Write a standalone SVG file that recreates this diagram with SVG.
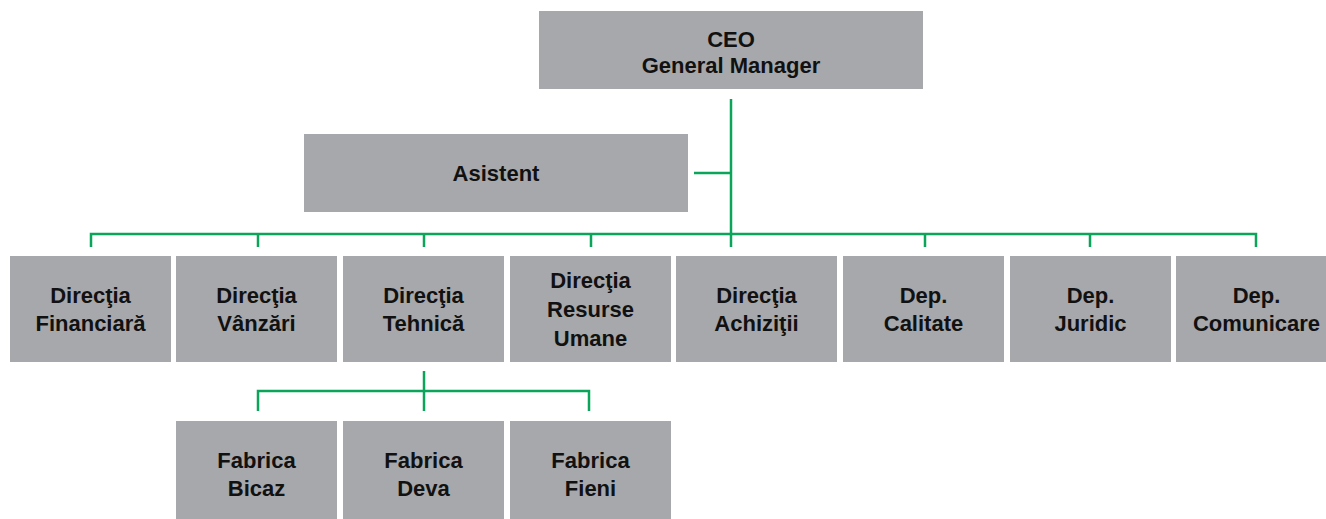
<svg xmlns="http://www.w3.org/2000/svg" width="1326" height="519" viewBox="0 0 1326 519">
<style>
.box{fill:#a7a8ab}
.t{font-family:"Liberation Sans",Arial,sans-serif;font-weight:bold;font-size:22px;fill:#111;text-anchor:middle}
.c{stroke:#0aa55a;stroke-width:2.5;fill:none}
</style>
<rect width="1326" height="519" fill="#ffffff"/>
<g id="connectors">
<path class="c" d="M731,99 V247"/>
<path class="c" d="M694,173 H731"/>
<path class="c" d="M91,247 V234 H1256 V247"/>
<path class="c" d="M258,234 V247 M424,234 V247 M591,234 V247 M925,234 V247 M1090,234 V247"/>
<path class="c" d="M424,371 V411"/>
<path class="c" d="M258,411 V391 H589 V411"/>
</g>
<g id="ceo"><rect class="box" x="539" y="11" width="384" height="78"/><text class="t" x="731" y="47">CEO</text><text class="t" x="731" y="73">General Manager</text></g>
<g id="asistent"><rect class="box" x="304" y="134" width="384" height="78"/><text class="t" x="496" y="181">Asistent</text></g>
<g id="dir-financiara"><rect class="box" x="10" y="256" width="161" height="106"/><text class="t" x="90.5" y="303">Direcţia</text><text class="t" x="90.5" y="331">Financiară</text></g>
<g id="dir-vanzari"><rect class="box" x="176" y="256" width="161" height="106"/><text class="t" x="256.5" y="303">Direcţia</text><text class="t" x="256.5" y="331">Vânzări</text></g>
<g id="dir-tehnica"><rect class="box" x="343" y="256" width="161" height="106"/><text class="t" x="423.5" y="303">Direcţia</text><text class="t" x="423.5" y="331">Tehnică</text></g>
<g id="dir-resurse"><rect class="box" x="510" y="256" width="161" height="106"/><text class="t" x="590.5" y="288">Direcţia</text><text class="t" x="590.5" y="317">Resurse</text><text class="t" x="590.5" y="346">Umane</text></g>
<g id="dir-achizitii"><rect class="box" x="676" y="256" width="161" height="106"/><text class="t" x="756.5" y="303">Direcţia</text><text class="t" x="756.5" y="331">Achiziţii</text></g>
<g id="dep-calitate"><rect class="box" x="843" y="256" width="161" height="106"/><text class="t" x="923.5" y="303">Dep.</text><text class="t" x="923.5" y="331">Calitate</text></g>
<g id="dep-juridic"><rect class="box" x="1010" y="256" width="161" height="106"/><text class="t" x="1090.5" y="303">Dep.</text><text class="t" x="1090.5" y="331">Juridic</text></g>
<g id="dep-comunicare"><rect class="box" x="1176" y="256" width="161" height="106"/><text class="t" x="1256.5" y="303">Dep.</text><text class="t" x="1256.5" y="331">Comunicare</text></g>
<g id="fabrica-bicaz"><rect class="box" x="176" y="421" width="161" height="106"/><text class="t" x="256.5" y="468">Fabrica</text><text class="t" x="256.5" y="496">Bicaz</text></g>
<g id="fabrica-deva"><rect class="box" x="343" y="421" width="161" height="106"/><text class="t" x="423.5" y="468">Fabrica</text><text class="t" x="423.5" y="496">Deva</text></g>
<g id="fabrica-fieni"><rect class="box" x="510" y="421" width="161" height="106"/><text class="t" x="590.5" y="468">Fabrica</text><text class="t" x="590.5" y="496">Fieni</text></g>
</svg>
